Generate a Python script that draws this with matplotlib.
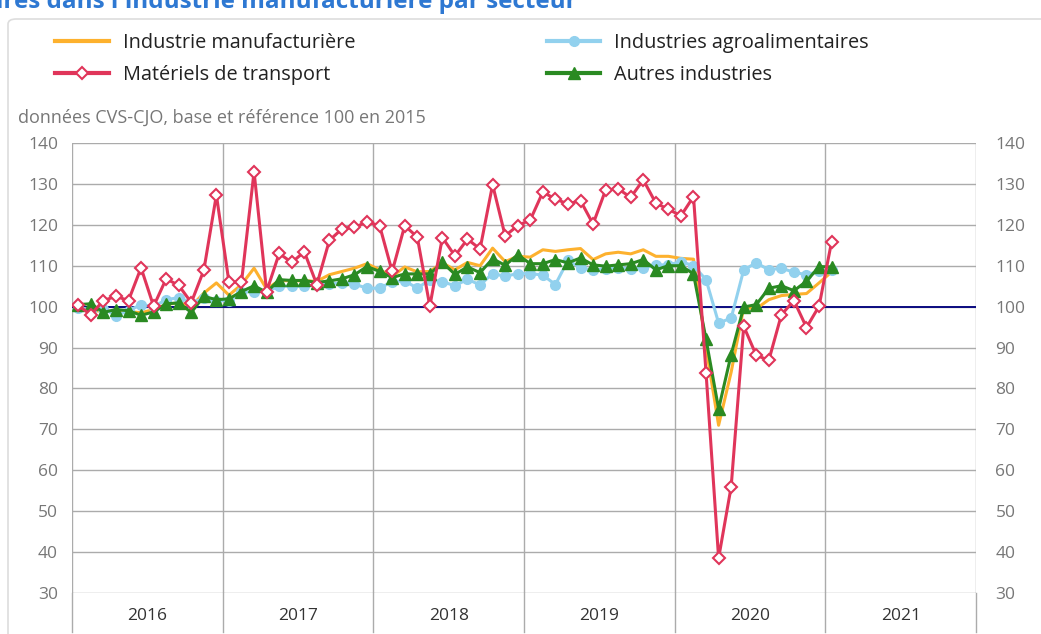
import matplotlib
matplotlib.use("Agg")
import matplotlib.pyplot as plt
import numpy as np
from matplotlib.patches import FancyBboxPatch

plt.rcParams['font.family'] = ['Open Sans', 'DejaVu Sans']

# monthly data, Jan 2016 -> Jan 2021 (base 100 in 2015)
years = ['2016', '2017', '2018', '2019', '2020', '2021']

manuf = [100, 98.9, 99, 98.8, 98.8, 98.5, 99.3, 100.5, 101, 100.1,
         103.3, 105.8, 102.8, 105.4, 109.4, 104.3, 106.4, 106.3, 106.3, 106.2,
         107.8, 108.6, 109.4, 110.5, 109, 107.4, 109.7, 108.5, 108.6, 110.7,
         109, 110.8, 110, 114.3, 111, 112.3, 112.1, 113.9, 113.5, 113.9,
         114.2, 111.5, 112.9, 113.3, 112.9, 113.9, 112.3, 112.3, 111.8, 111.6,
         90, 71, 84, 99.8, 99.5, 101.7, 102.7, 103, 103.2, 105.8,
         108.5]

agro = [99.7, 99.3, 99.5, 97.8, 99, 100.5, 100, 101.7, 102.2, 101,
        102, 101.5, 101.5, 103.5, 103.7, 103.7, 105, 105, 105, 105.4,
        105.6, 105.8, 105.5, 104.5, 104.5, 106.1, 106.3, 104.5, 106.6, 106.1,
        105.1, 106.7, 105.3, 108.1, 107.4, 108.1, 108.1, 107.7, 105.4, 111.3,
        109.5, 108.9, 109.3, 109.5, 109.3, 109.4, 110.2, 110.2, 111, 110,
        106.6, 96, 97.2, 109, 110.7, 109, 109.4, 108.4, 107.8, 108.6,
        109]

transport = [100.3, 98, 101.5, 102.5, 101.5, 109.5, 100.1, 106.8, 105.2, 101,
             108.9, 127.3, 106, 106, 133, 103.7, 113, 110.8, 113.4, 105.4,
             116.2, 119, 119.4, 120.7, 119.8, 108.6, 119.8, 117, 100.1, 116.9,
             112.4, 116.5, 114.1, 129.8, 117.3, 119.8, 121.2, 128, 126.3, 125.1,
             125.9, 120.2, 128.5, 128.8, 126.7, 131, 125.3, 123.8, 122.2, 126.9,
             83.8, 38.5, 56, 95.2, 88.1, 86.9, 98, 101.5, 94.9, 100.1,
             115.9]

autres = [100.5, 100.7, 98.6, 99.3, 99, 97.9, 98.7, 100.7, 100.9, 98.6,
          102.5, 101.7, 101.9, 103.7, 105.1, 103.5, 106.6, 106.4, 106.4, 105.9,
          106.3, 106.8, 107.8, 109.8, 108.6, 107.1, 108, 108, 108, 110.8,
          107.9, 109.7, 108.3, 111.7, 110.1, 112.7, 110.5, 110.5, 111.5, 110.7,
          111.9, 110.2, 109.9, 110.2, 110.5, 111.5, 109, 110, 110, 108,
          92, 75, 88.3, 99.9, 100.5, 104.5, 105.1, 103.9, 106.2, 109.8,
          109.7]

yticks = [30, 40, 50, 60, 70, 80, 90, 100, 110, 120, 130, 140]

c_manuf = '#FDB12E'
c_agro = '#92D1EE'
c_trans = '#E0355A'
c_autres = '#2A8A22'
grid_c = '#ABABAB'
txt_c = '#777777'

x = np.arange(len(manuf)) + 0.5

fig = plt.figure(figsize=(10.41, 6.34), dpi=100)

# light frame around the chart
frame = FancyBboxPatch((8 / 1041, -0.05), 1.2, 1 - 19 / 634 + 0.05,
                       boxstyle='round,pad=0,rounding_size=0.008',
                       transform=fig.transFigure, fill=False,
                       edgecolor='#DDDDDD', linewidth=1.2)
fig.patches.append(frame)

# clipped title at the very top
fig.text(-0.004, 1 - 8 / 634, "ires dans l'industrie manufacturière par secteur",
         color='#2E78D2', fontsize=17.5, fontweight='bold', va='baseline', ha='left')

ax = fig.add_axes([72 / 1041, 41 / 634, 904 / 1041, 450 / 634])
ax.set_xlim(0, 72)
ax.set_ylim(30, 140)

for v in yticks:
    ax.axhline(v, color=grid_c, lw=1.0, zorder=1)
for k in range(0, 73, 12):
    ax.plot([k, k], [30, 140], color=grid_c, lw=1.0, zorder=1)
    ax.plot([k, k], [30, 20.5], color=grid_c, lw=1.0, zorder=1, clip_on=False)
ax.axhline(100, color='#0A0A80', lw=1.4, zorder=2)

ax.plot(x, manuf, color=c_manuf, lw=2.2, zorder=3, label='Industrie manufacturière')
ax.plot(x, agro, color=c_agro, lw=2.2, marker='o', ms=7, mec=c_agro, mfc=c_agro,
        zorder=3, label='Industries agroalimentaires')
ax.plot(x, transport, color=c_trans, lw=2.2, marker='D', ms=6.5, mfc='white',
        mec=c_trans, mew=1.5, zorder=5, label='Matériels de transport')
ax.plot(x, autres, color=c_autres, lw=2.2, marker='^', ms=8, mfc=c_autres,
        mec=c_autres, zorder=4, label='Autres industries')

for s in ax.spines.values():
    s.set_visible(False)
ax.set_xticks([])
ax.set_yticks(yticks)
ax.tick_params(axis='y', length=0, labelsize=12.5, labelcolor=txt_c, pad=10)
ax2 = ax.twinx()
ax2.set_ylim(30, 140)
ax2.set_yticks(yticks)
ax2.tick_params(axis='y', length=0, labelsize=12.5, labelcolor=txt_c, pad=14)
for s in ax2.spines.values():
    s.set_visible(False)

for i, yr in enumerate(years):
    ax.text(12 * i + 6, 24.5, yr, ha='center', va='center', fontsize=12.5,
            color='#333333')

fig.text(18 / 1041, 1 - 118 / 634, 'données CVS-CJO, base et référence 100 en 2015',
         color=txt_c, fontsize=13, va='center', ha='left')

handles, labels = ax.get_legend_handles_labels()
order = [0, 2, 1, 3]
leg = fig.legend([handles[i] for i in order], [labels[i] for i in order],
                 loc='upper left', bbox_to_anchor=(55 / 1041, 1 - 33 / 634),
                 ncol=2, frameon=False, fontsize=14.3, handlelength=2.7,
                 columnspacing=9.65, labelspacing=0.6, handletextpad=0.7,
                 borderpad=0, borderaxespad=0, labelcolor='#222222')
for h in leg.legend_handles:
    h.set_linewidth(3)

fig.savefig('out.png', dpi=100)
